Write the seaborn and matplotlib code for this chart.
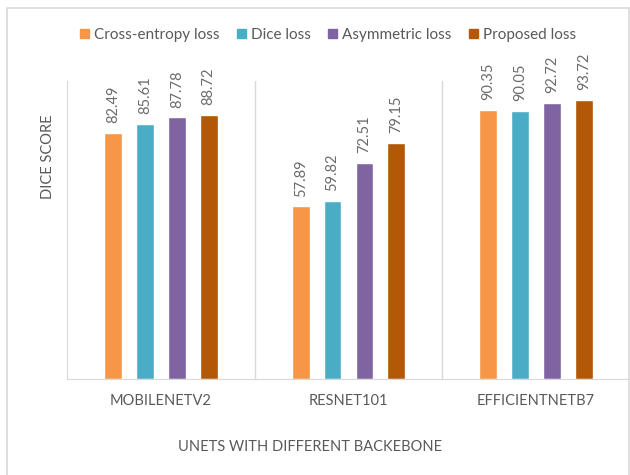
import pandas as pd
import matplotlib
matplotlib.use("Agg")
import matplotlib.pyplot as plt
import seaborn as sns
from matplotlib.patches import Rectangle

# values
backbones = ["MOBILENETV2", "RESNET101", "EFFICIENTNETB7"]
losses = ["Cross-entropy loss", "Dice loss", "Asymmetric loss", "Proposed loss"]
cross_entropy = [82.49, 57.89, 90.35]
dice = [85.61, 59.82, 90.05]
asymmetric = [87.78, 72.51, 92.72]
proposed = [88.72, 79.15, 93.72]
colors = ["#F79646", "#4BACC6", "#8064A2", "#B35806"]

rows = []
for loss, vals in zip(losses, [cross_entropy, dice, asymmetric, proposed]):
    for b, v in zip(backbones, vals):
        rows.append({"backbone": b, "loss": loss, "score": v})
df = pd.DataFrame(rows)

sns.set_style("white")
plt.rcParams['font.family'] = ['Lato', 'DejaVu Sans']
txt = "#595959"
grid = "#d9d9d9"

fig = plt.figure(figsize=(6.3, 4.75), dpi=100)
ax = fig.add_axes([67/630, 1 - 379/475, 563/630, 298/475])

sns.barplot(data=df, x="backbone", y="score", hue="loss", order=backbones,
            hue_order=losses, palette=colors, width=0.68, gap=0.44,
            saturation=1, ax=ax, legend=False)

for c in ax.containers:
    ax.bar_label(c, fmt="%.2f", rotation=90, padding=7, fontsize=10.5,
                 color="#6b6b6b")

ax.set_ylim(0, 100)
ax.set_xlim(-0.5, 2.5)
ax.set_yticks([])
ax.set_xlabel("")
ax.set_ylabel("")
for s in ["top", "right"]:
    ax.spines[s].set_visible(False)
ax.spines["left"].set_color(grid)
ax.spines["bottom"].set_color(grid)
for x in [0.5, 1.5, 2.5]:
    ax.axvline(x, color=grid, lw=1, clip_on=False)
ax.tick_params(axis="x", length=0, pad=11, labelsize=10.5, labelcolor=txt)

# legend
handles = [plt.Rectangle((0, 0), 1, 1, color=c) for c in colors]
fig.legend(handles, losses, loc="center", bbox_to_anchor=(328/630, 1 - 35/475),
           ncol=4, frameon=False, fontsize=11, labelcolor=txt,
           handlelength=0.6, handleheight=0.6, handletextpad=0.35,
           columnspacing=1.1)

fig.text(48/630, 1 - 157/475, "DICE SCORE", rotation=90, ha="center",
         va="center", fontsize=10.5, color=txt)
fig.text(310/630, 1 - 447/475, "UNETS WITH DIFFERENT BACKEBONE", ha="center",
         va="center", fontsize=10.5, color=txt)

fig.patches.append(Rectangle((6.5/630, -0.1), 622/630, 1.1 - 8/475,
                             transform=fig.transFigure, fill=False,
                             edgecolor=grid, lw=1.2))

fig.savefig("out.png", dpi=100)
